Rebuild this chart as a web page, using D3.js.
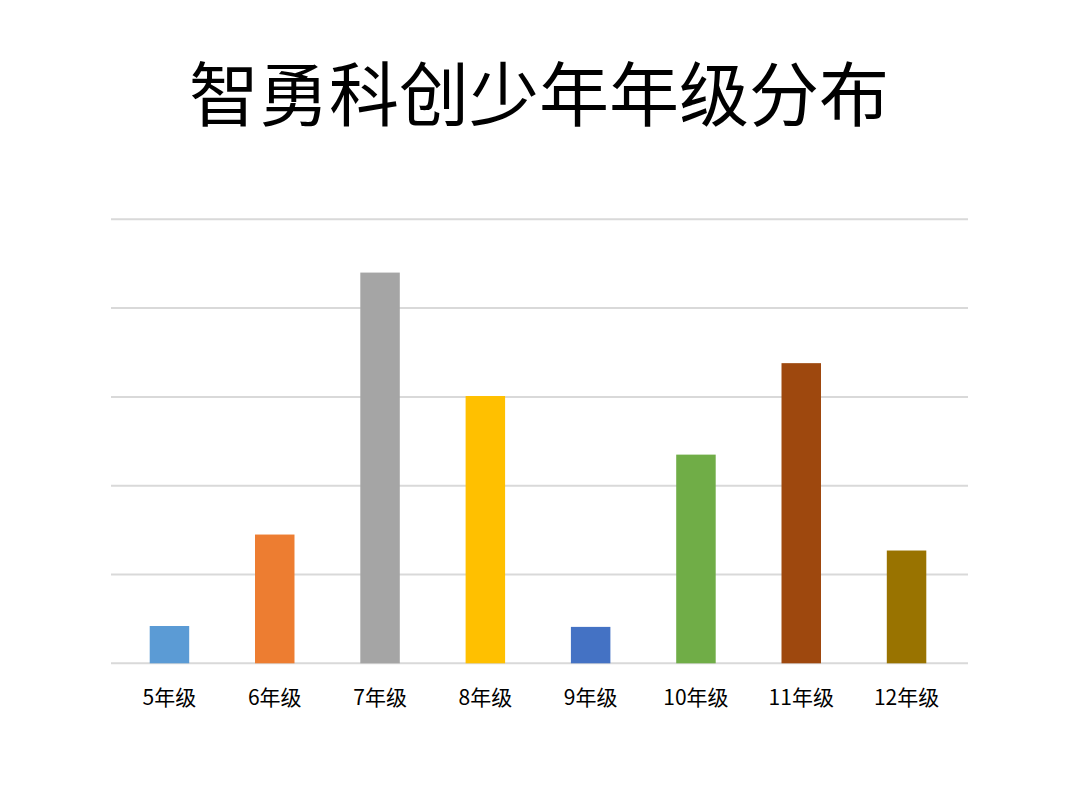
<!DOCTYPE html>
<html>
<head>
<meta charset="utf-8">
<script src="https://cdn.jsdelivr.net/npm/d3@7"></script>
<style>
  body { margin: 0; background: #fff; }
  svg { display: block; font-family: "Noto Sans CJK SC", "Noto Sans", sans-serif; }
</style>
</head>
<body>
<svg id="chart" width="1080" height="810"></svg>
<script>
// data (one gridline = 10)
var grades = ["5年级", "6年级", "7年级", "8年级", "9年级", "10年级", "11年级", "12年级"];
var counts = [4.2, 14.5, 44, 30.1, 4.1, 23.5, 33.8, 12.7];
var barColors = ["#5B9BD5", "#ED7D31", "#A5A5A5", "#FFC000", "#4472C4", "#70AD47", "#9E480E", "#997300"];
var gridTicks = [0, 10, 20, 30, 40, 50];
var title = "智勇科创少年年级分布";

var svg = d3.select("#chart");

// plot area (gridline extents)
var plotLeft = 111, plotRight = 968, plotTop = 219.3, plotBottom = 663.3;

var x = d3.scaleBand()
    .domain(grades)
    .range([116.8, 959.2])
    .paddingInner(0.625)
    .paddingOuter(0.3125);

var y = d3.scaleLinear()
    .domain([0, 50])
    .range([plotBottom, plotTop]);

// title
svg.append("text")
    .attr("x", 539)
    .attr("y", 121)
    .attr("text-anchor", "middle")
    .attr("font-size", 70)
    .attr("fill", "#000")
    .text(title);

// gridlines
svg.append("g")
    .selectAll("line")
    .data(gridTicks)
    .join("line")
    .attr("x1", plotLeft)
    .attr("x2", plotRight)
    .attr("y1", function(d){ return y(d); })
    .attr("y2", function(d){ return y(d); })
    .attr("stroke", "#d9d9d9")
    .attr("stroke-width", 2);

// bars
svg.append("g")
    .selectAll("rect")
    .data(counts)
    .join("rect")
    .attr("x", function(d, i){ return x(grades[i]); })
    .attr("y", function(d){ return y(d); })
    .attr("width", x.bandwidth())
    .attr("height", function(d){ return y(0) - y(d); })
    .attr("fill", function(d, i){ return barColors[i]; });

// category labels via bottom axis
var xAxis = svg.append("g")
    .attr("transform", "translate(0," + plotBottom + ")")
    .call(d3.axisBottom(x).tickSize(0).tickPadding(27));
xAxis.select(".domain").remove();
xAxis.selectAll("text")
    .attr("font-size", 21)
    .attr("fill", "#000")
    .style("font-family", "\"Noto Sans CJK SC\", sans-serif");
</script>
</body>
</html>
